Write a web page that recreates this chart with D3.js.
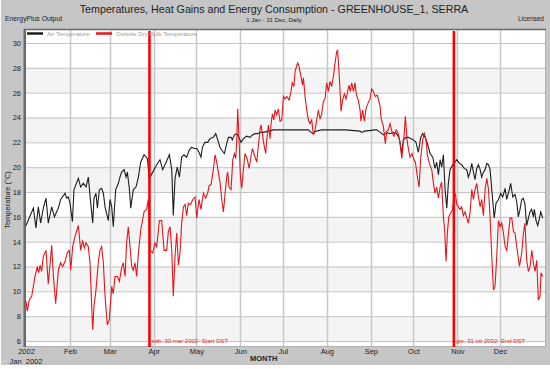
<!DOCTYPE html>
<html>
<head>
<meta charset="utf-8">
<script src="https://cdn.jsdelivr.net/npm/d3@7"></script>
<style>
  body { margin: 0; background: #fff; }
  svg { display: block; font-family: "Liberation Sans", Arial, sans-serif; }
</style>
</head>
<body>
<div id="chart"></div>
<script>
// EnergyPlus daily temperatures, greenhouse vs outside air, 2002

// day of year (0 = 1 Jan) and zone air temperature
var airDay = [0,5.2,7,8.7,10.3,12.2,14.1,15.7,18.1,20,22.8,24.4,27.5,28.7,29.8,31,32.7,33.8,36.9,38.5,40.4,42.3,43.9,45.6,47,47.9,49.3,50.3,51.7,53.3,54.5,55.7,58,59.2,60.4,61.5,63.2,65.1,66.2,67.4,69.1,70.5,71.4,72.8,73.8,75.6,77.5,79.2,80.8,83.2,85.5,86.9,89.3,92.1,94.4,96.3,98.7,101,102.7,103.8,105,106.6,108.1,109.7,111.3,113.2,115.1,116.7,118.4,
  120.3,121.9,123.3,124.3,126.1,128,129.7,132,133.7,135.1,136.7,138.4,139.8,141.4,142.6,144.5,145.4,146.8,148.5,149.6,151.5,153.2,155.5,157.9,159.5,161.4,163.3,164.9,167.3,170.8,174.3,185,199,200.9,202.6,204.2,208.4,224.9,235.4,236.6,238.5,246,
  247.1,249.5,251.8,254.2,256.5,258.9,261.2,263.1,264.8,265.9,267.8,269.4,271.1,273,274.8,276.5,278.1,279.5,281.2,282.9,284.7,286.6,288.2,289.4,290.6,291.8,292.9,294.1,295.3,296.5,297.6,298.8,300.7,302.3,303.5,305.4,307,308.7,310.6,311.7,312.9,314.1,315.3,316.4,317.6,318.8,320,321.1,322.3,323.5,324.7,325.9,327,328.2,329.9,331.2,332.9,334.5,335.9,337.6,338.7,340.6,341.5,343,344.6,345.8,346.9,348.1,349.3,350.4,351.6,352.8,354,355.1,356.3,357.5,358.2,359.4,360.6,361.8,362.7,364.1];
var airTemp = [15.3,16.7,15.1,16.8,15.5,16.7,17.5,15.5,16.8,16.0,16.7,17.4,17.9,17.5,17.6,17.1,15.6,18.2,19.1,18.4,18.7,18.4,19.2,17.1,15.5,17.5,17.9,16.7,18.2,18.3,17.9,16.8,15.7,17.4,16.8,15.2,18.2,18.7,19.2,19.6,19.8,19.2,19.6,18.3,16.7,18.2,18.4,19.2,20.4,21.0,20.7,19.1,19.6,20.2,20.6,19.8,20.4,21.0,19.8,16.1,19.1,20.0,19.2,20.8,21.0,20.8,21.4,21.6,21.5,
  21.5,21.2,20.8,21.6,22.0,22.0,22.3,22.4,22.7,22.2,21.6,21.3,21.1,21.9,22.4,22.4,22.2,22.6,22.7,22.5,22.0,22.3,22.5,22.4,22.6,22.7,22.7,22.8,22.8,22.9,23.0,23.0,23.0,22.8,22.7,22.9,23.0,23.0,22.9,22.8,22.9,23.0,
  23.0,22.8,22.6,22.8,22.7,22.8,22.7,22.3,21.1,22.2,22.4,22.4,22.3,22.2,22.0,21.2,22.4,22.7,22.4,21.9,21.1,20.8,19.9,20.4,19.4,20.6,20.0,21.0,18.2,16.7,18.7,19.8,20.2,20.4,20.6,20.3,20.2,19.9,19.8,19.2,19.6,20.3,19.6,19.0,19.9,20.2,19.8,19.2,19.6,19.8,20.3,20.2,19.8,18.2,15.9,17.1,17.4,17.9,17.6,18.3,17.4,18.2,18.7,17.6,17.8,17.2,16.0,16.6,17.4,17.5,17.0,15.3,15.9,16.4,16.6,16.0,16.6,15.7,15.3,15.9,16.4,15.9];

// day of year and outside dry-bulb temperature
var outDay = [0,0.9,2.3,4,5.2,6.3,8,8.9,9.9,11,12.2,14.1,15.7,18.1,19.3,20.9,22.8,24.4,25.8,27.5,29.1,30.5,31.5,32.9,34.5,36.9,38.5,39.9,41.1,42.3,43.9,45.1,46.3,47,47.9,49.3,51,52.1,53.3,54.5,55.7,57.3,58.7,60.4,61.5,62.7,64.4,65.8,67.4,68.6,69.8,70.9,72.1,73.3,74.5,75.6,76.8,78,79.2,80.8,83.2,85,86.2,87.4,89.3,90.9,92.1,94,95.6,97.3,99.1,100.3,101.5,102.7,103.8,105,106.2,107.4,108.5,109.7,110.9,112.1,113.2,114.4,116,117.5,119.1,120.3,
  121.9,123.3,125,126.6,128,129,130.4,132,133.2,134.4,135.5,136.7,137.9,139.1,140.3,141.4,142.1,143.1,144.5,145.7,146.8,147.8,148.5,149.2,150.2,151.1,152,153.2,154.3,155.8,157.2,158.6,159.5,160.9,162.6,163.7,164.9,165.6,166.8,167.7,168.9,169.6,170.8,172,172.7,173.6,174.6,175.5,176.7,177.8,179,180.2,181.4,182.5,183.7,185.4,186.7,187.6,188.8,189.6,190.8,191.5,192.4,193.8,194.8,195.5,196.6,197.8,199,200.1,201.3,202.5,203.7,204.8,206,207.2,208.4,209.5,210.7,211.9,213,214.2,215.4,216.6,217.8,218.9,219.6,220.6,221.5,222,223.1,224.3,225.5,226.7,227.6,228.5,229.5,230.7,231.8,232.8,234.2,235.4,236,237.2,238.4,239.6,240.8,242.4,243.6,244.8,246,
  247.6,249.5,250.2,251.8,253.2,254.2,255.3,256.5,258.2,259.3,260.8,262.4,263.6,264.8,266.4,267.3,268.5,269.4,270.6,272,273,274.4,275.8,277,278.1,279.5,280.7,281.9,282.8,284.2,285.9,287.1,288.2,
  289.4,290.6,291.8,292.9,294.1,295,296,296.9,297.9,299.3,300.7,301.6,302.6,303.5,304.7,305.8,307,308.2,309.4,310.6,311.7,312.9,314.1,315.3,316.4,317.6,318.8,320,321.1,322.3,323.5,324.7,325.9,327,328.2,329.4,330.5,331.7,332.9,334.1,335.2,336.4,337.6,338.8,340,341.1,342.3,343.5,344.6,345.8,347.7,349.3,350.5,351.6,352.8,354,355.2,356.4,357.5,358.7,359.9,361,362.2,362.9,364.1];
var outTemp = [9.2,8.4,9.3,9.6,10.4,11.2,12.0,11.5,12.1,11.6,12.8,13.3,10.6,13.7,11.2,9.0,11.7,12.3,12.0,12.4,13.1,13.3,11.7,13.6,14.4,15.3,13.3,14.1,13.5,13.9,13.6,12.3,8.8,6.9,8.8,10.1,12.4,13.3,13.6,12.3,9.6,7.3,7.7,10.4,9.8,11.2,11.2,10.8,11.9,12.3,11.2,13.9,15.2,13.6,12.0,11.7,12.3,11.2,13.1,14.9,16.4,16.6,17.4,13.3,13.1,13.9,13.6,15.7,15.7,13.3,13.3,14.8,15.2,13.3,9.6,12.8,14.7,12.1,13.1,15.5,16.8,17.0,16.1,17.1,17.0,17.4,17.6,15.9,
  17.4,16.6,17.9,17.5,17.9,18.5,18.6,19.8,21.0,20.4,19.6,18.8,17.4,16.4,17.9,19.2,19.6,18.4,18.2,20.6,21.1,20.7,22.1,24.7,21.9,19.2,18.3,19.8,21.1,20.7,19.9,20.9,21.5,21.0,20.4,21.7,23.0,23.4,22.5,21.8,21.1,22.2,23.4,22.3,23.5,24.3,23.8,24.6,24.2,24.7,23.7,23.8,25.7,25.5,25.7,25.4,26.1,26.8,26.5,27.7,28.2,28.4,28.1,27.3,26.6,27.2,25.7,24.6,23.8,23.5,23.8,22.6,23.0,23.8,24.6,23.9,24.3,25.3,25.5,26.8,26.1,26.9,26.5,27.3,28.4,29.3,29.4,27.6,25.7,24.5,25.4,25.9,25.5,26.1,26.6,26.1,26.8,26.1,26.8,25.8,25.4,24.6,23.7,24.6,23.7,24.7,25.1,25.5,26.3,26.1,25.7,
  25.8,24.9,23.9,23.3,21.9,22.9,23.0,23.5,22.7,22.5,23.0,22.7,21.9,20.7,22.5,24.1,22.2,21.5,20.8,21.1,20.7,20.4,19.2,18.4,20.7,22.2,22.7,22.2,21.0,20.3,19.8,18.7,17.9,
  18.4,17.5,18.4,18.8,16.0,14.9,12.4,14.7,16.0,16.3,16.6,17.6,17.8,17.0,16.8,16.6,16.8,16.1,16.4,15.9,15.5,16.3,18.2,17.4,18.2,18.7,17.6,16.8,17.4,16.1,18.2,19.1,18.2,16.0,12.8,10.1,10.4,12.8,15.7,15.2,15.5,14.7,13.6,13.3,14.7,15.9,15.9,14.8,14.7,13.6,12.0,13.1,14.7,15.5,12.5,11.6,12.0,13.3,12.3,11.6,12.5,9.3,9.6,11.5,11.2];

var yTicks = [6,8,10,12,14,16,18,20,22,24,26,28,30];
var monthNames = ['2002','Feb','Mar','Apr','May','Jun','Jul','Aug','Sep','Oct','Nov','Dec'];
var dstLines = [
  { when: Date.UTC(2002, 2, 29), label: 'sab, 30 mar 2002- Start DST' },
  { when: Date.UTC(2002, 9, 29, 12), label: 'gio, 31 ott 2002- End DST' }
];

var width = 550, height = 369;
var plotLeft = 26, plotRight = 545, plotTop = 30, plotBottom = 346;
var t0 = Date.UTC(2002, 0, 1);

var svg = d3.select('#chart').append('svg')
  .attr('width', width)
  .attr('height', height);

// gray frame
svg.append('rect')
  .attr('x', 1).attr('y', 0)
  .attr('width', width - 1).attr('height', 365)
  .attr('fill', '#c6c6c6');

var x = d3.scaleUtc()
  .domain([new Date(t0), new Date(Date.UTC(2003, 0, 1))])
  .range([26, 544]);
var y = d3.scaleLinear()
  .domain([6, 30])
  .range([341, 43]);

function dayDate(d) { return new Date(t0 + d * 864e5); }

// plot area
svg.append('rect')
  .attr('x', plotLeft).attr('y', plotTop)
  .attr('width', plotRight - plotLeft).attr('height', plotBottom - plotTop)
  .attr('fill', '#fff');

// alternating bands
svg.append('g').selectAll('rect')
  .data(yTicks.filter(function (t, i) { return i % 2 === 0 && t < 30; }))
  .enter().append('rect')
    .attr('x', plotLeft)
    .attr('y', function (t) { return y(t + 2); })
    .attr('width', plotRight - plotLeft)
    .attr('height', function (t) { return y(t) - y(t + 2); })
    .attr('fill', '#f4f4f4');

// horizontal grid
svg.append('g').selectAll('line')
  .data(yTicks)
  .enter().append('line')
    .attr('x1', plotLeft).attr('x2', plotRight)
    .attr('y1', function (t) { return y(t) + 0.5; })
    .attr('y2', function (t) { return y(t) + 0.5; })
    .attr('stroke', '#c4c4c4');

// vertical month grid
var months = d3.utcMonth.range(new Date(t0), new Date(Date.UTC(2003, 0, 1)));
svg.append('g').selectAll('line')
  .data(months.slice(1))
  .enter().append('line')
    .attr('x1', function (d) { return Math.round(x(d)) + 0.5; })
    .attr('x2', function (d) { return Math.round(x(d)) + 0.5; })
    .attr('y1', plotTop).attr('y2', plotBottom + 3)
    .attr('stroke', '#c8c8c8')
    .attr('stroke-width', 1.5);

// frame lines
svg.append('line')
  .attr('x1', plotLeft).attr('x2', plotRight)
  .attr('y1', plotBottom + 0.5).attr('y2', plotBottom + 0.5)
  .attr('stroke', '#b0b0b0');
svg.append('line')
  .attr('x1', plotRight + 0.5).attr('x2', plotRight + 0.5)
  .attr('y1', plotTop).attr('y2', plotBottom)
  .attr('stroke', '#b0b0b0');
svg.append('line')
  .attr('x1', 24).attr('x2', plotRight + 1)
  .attr('y1', 29.5).attr('y2', 29.5)
  .attr('stroke', '#6a6a6a').attr('stroke-width', 1.5);
svg.append('rect')
  .attr('x', 23.5).attr('y', 29)
  .attr('width', 2.5).attr('height', plotBottom - 28)
  .attr('fill', '#6a6a6a');

// series
var line = d3.line()
  .x(function (d) { return x(dayDate(d[0])); })
  .y(function (d) { return y(d[1]); });

svg.append('path')
  .datum(d3.zip(airDay, airTemp))
  .attr('d', line)
  .attr('fill', 'none')
  .attr('stroke', '#1e1e1e')
  .attr('stroke-width', 1.1);

svg.append('path')
  .datum(d3.zip(outDay, outTemp))
  .attr('d', line)
  .attr('fill', 'none')
  .attr('stroke', '#e3161c')
  .attr('stroke-width', 1.1);

// DST markers
var dst = svg.append('g').selectAll('g')
  .data(dstLines)
  .enter().append('g');
dst.append('line')
  .attr('x1', function (d) { return x(new Date(d.when)); })
  .attr('x2', function (d) { return x(new Date(d.when)); })
  .attr('y1', plotTop + 1).attr('y2', plotBottom + 1)
  .attr('stroke', '#ff0000')
  .attr('stroke-width', 2.6);
dst.append('text')
  .attr('x', function (d) { return x(new Date(d.when)) + 2; })
  .attr('y', 343)
  .attr('font-size', '6px')
  .attr('fill', '#e03030')
  .text(function (d) { return d.label; });

// axes
var yAxis = d3.axisLeft(y)
  .tickValues(yTicks)
  .tickSize(0)
  .tickPadding(5);
var gy = svg.append('g')
  .attr('transform', 'translate(26,0)')
  .call(yAxis);
gy.select('.domain').remove();
gy.selectAll('text')
  .attr('font-family', '"Liberation Sans", Arial, sans-serif')
  .attr('font-size', '7.5px')
  .attr('fill', '#222');

var xAxis = d3.axisBottom(x)
  .tickValues(months)
  .tickSize(0)
  .tickPadding(0)
  .tickFormat(function (d, i) { return monthNames[i]; });
var gx = svg.append('g')
  .attr('transform', 'translate(0,349)')
  .call(xAxis);
gx.select('.domain').remove();
gx.selectAll('text')
  .attr('font-family', '"Liberation Sans", Arial, sans-serif')
  .attr('font-size', '7.5px')
  .attr('fill', '#222');

svg.append('text')
  .attr('x', x(new Date(t0)))
  .attr('y', 363.5)
  .attr('text-anchor', 'middle')
  .attr('font-size', '7.5px')
  .attr('fill', '#222')
  .style('white-space', 'pre')
  .text('Jan  2002');

svg.append('text')
  .attr('x', 250)
  .attr('y', 361)
  .attr('font-size', '7.5px')
  .attr('font-weight', 'bold')
  .attr('fill', '#222')
  .text('MONTH');

svg.append('text')
  .attr('transform', 'translate(10,' + 200 + ') rotate(-90)')
  .attr('text-anchor', 'middle')
  .attr('font-size', '7.5px')
  .attr('fill', '#222')
  .text('Temperature (°C)');

// titles
svg.append('text')
  .attr('x', 274).attr('y', 13)
  .attr('text-anchor', 'middle')
  .attr('font-size', '10.7px')
  .attr('fill', '#222')
  .text('Temperatures, Heat Gains and Energy Consumption - GREENHOUSE_1, SERRA');
svg.append('text')
  .attr('x', 274).attr('y', 21.5)
  .attr('text-anchor', 'middle')
  .attr('font-size', '6px')
  .attr('fill', '#222')
  .text('1 Jan - 31 Dec, Daily');
svg.append('text')
  .attr('x', 5).attr('y', 21)
  .attr('font-size', '6.8px')
  .attr('fill', '#222')
  .text('EnergyPlus Output');
svg.append('text')
  .attr('x', 544).attr('y', 21)
  .attr('text-anchor', 'end')
  .attr('font-size', '6.5px')
  .attr('fill', '#222')
  .text('Licensed');

// legend
var legend = [
  { name: 'Air Temperature', color: '#1e1e1e', x: 27 },
  { name: 'Outside Dry-Bulb Temperature', color: '#e3161c', x: 96 }
];
var lg = svg.append('g').selectAll('g')
  .data(legend)
  .enter().append('g');
lg.append('line')
  .attr('x1', function (d) { return d.x; })
  .attr('x2', function (d) { return d.x + 16; })
  .attr('y1', 33.5).attr('y2', 33.5)
  .attr('stroke', function (d) { return d.color; })
  .attr('stroke-width', 2.5);
lg.append('text')
  .attr('x', function (d) { return d.x + 20; })
  .attr('y', 35.7)
  .attr('font-size', '6px')
  .attr('fill', '#a0a0a0')
  .text(function (d) { return d.name; });
</script>
</body>
</html>
